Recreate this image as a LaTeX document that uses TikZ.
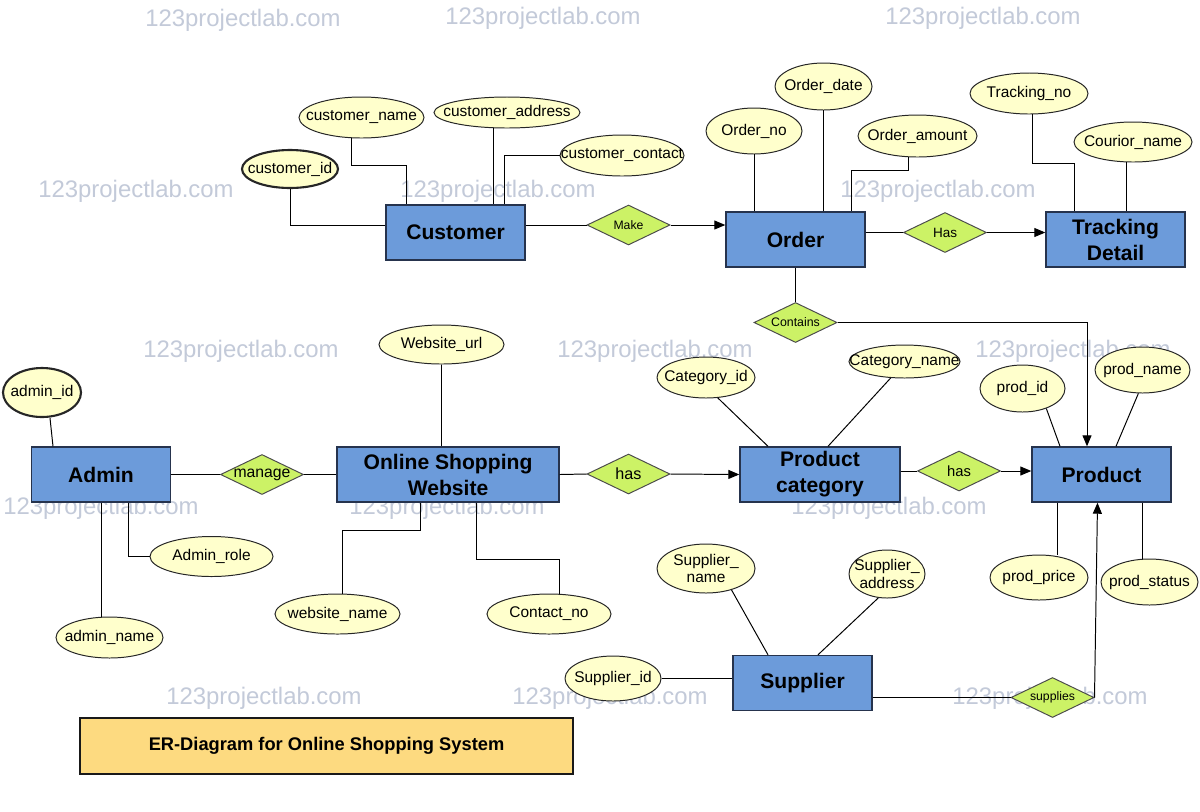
\documentclass[tikz,border=0pt]{standalone}
\usepackage{fontspec}
\setmainfont{Liberation Sans}
\usetikzlibrary{shapes.geometric,arrows.meta}

\newlength{\pxu}
\setlength{\pxu}{0.025cm}

\definecolor{entfill}{HTML}{6C9BDA}
\definecolor{entline}{HTML}{26334D}
\definecolor{attrfill}{HTML}{FFFFCC}
\definecolor{relfill}{HTML}{CCF266}
\definecolor{titlefill}{HTML}{FDDA80}
\definecolor{wmcolor}{HTML}{C3CAD9}

\tikzset{
  entity/.style={draw=entline, fill=entfill, line width=1pt, inner sep=2pt,
    minimum width=139\pxu, minimum height=55\pxu, align=center,
    font=\bfseries\fontsize{15}{18.5}\selectfont},
  attrtxt/.style={inner sep=0pt, align=center, font=\fontsize{11}{12.5}\selectfont},
  attr/.style n args={3}{ellipse, draw=black!85, fill=attrfill, inner sep=0pt,
    minimum width=#1\pxu, minimum height=#2\pxu, label={[attrtxt]center:#3}},
  keyline/.style={line width=1.5pt},
  rel/.style={diamond, aspect=2, draw=black!70, fill=relfill, inner sep=-1.5pt,
    minimum width=83\pxu, minimum height=40\pxu, font=\fontsize{#1}{#1}\selectfont},
  rel/.default=9,
  arr/.style={-{Triangle[length=0.275cm,width=0.225cm]}},
  wmark/.style={text=wmcolor, font=\fontsize{17}{17}\selectfont},
  titlebox/.style={draw=black!90, fill=titlefill, line width=1pt,
    minimum width=493\pxu, minimum height=56\pxu, font=\bfseries\fontsize{13}{15}\selectfont}
}

\begin{document}
\begin{tikzpicture}[x=\pxu, y=-\pxu, line width=0.7pt]
\fill[white] (0,0) rectangle (1200,811);
\useasboundingbox (0,0) rectangle (1200,811);

\foreach \wx/\wy in {243/20, 543/18, 983/18, 136/191, 498/191, 938/191,
  241/351, 655/351, 1073/351, 101/508, 447/508, 889/508,
  264/698, 610/698, 1050/698}
  \node[wmark] (wm\wx) at (\wx,\wy) {123projectlab.com};

\node[entity] (cust) at (455.5,232.5) {Customer};
\node[entity] (order) at (795.5,239.5) {Order};
\node[entity] (track) at (1115.5,239.5) {Tracking\\Detail};
\node[entity] (admin) at (101,474.5) {Admin};
\node[entity, minimum width=222\pxu] (osw) at (448,474.5) {Online Shopping\\Website};
\node[entity, minimum width=160\pxu] (pcat) at (820,474.5) {Product\\category};
\node[entity] (prod) at (1101.5,474.5) {Product};
\node[entity] (sup) at (802.5,683) {Supplier};

\node[rel=8.7] (make) at (628.5,225) {Make};
\node[rel=9.6] (ohas) at (945,232.5) {Has};
\node[rel=8.8] (contains) at (795.5,322.5) {Contains};
\node[rel=11.2] (manage) at (262,474.5) {manage};
\node[rel=11.5] (has1) at (628.5,474) {has};
\node[rel=10.5] (has2) at (959,471) {has};
\node[rel=8.7] (supplies) at (1052.5,697.5) {supplies};

\node[attr={96}{38}{customer\_id}, keyline] (cid) at (290,169) {};
\node[attr={125}{41}{customer\_name}] (cname) at (361.5,117.5) {};
\node[attr={146}{31}{customer\_address}] (caddr) at (507,112.5) {};
\node[attr={124}{41}{customer\_contact}] (ccont) at (622,155.5) {};
\node[attr={96}{46}{Order\_no}] (ono) at (754,131) {};
\node[attr={97}{47}{Order\_date}] (odate) at (823.5,86.5) {};
\node[attr={119}{42}{Order\_amount}] (oamt) at (917.5,136) {};
\node[attr={118}{41}{Tracking\_no}] (tno) at (1029,93.5) {};
\node[attr={118}{40}{Courior\_name}] (cour) at (1133,142) {};
\node[attr={78}{49}{admin\_id}, keyline] (aid) at (42,392.5) {};
\node[attr={123}{40}{Admin\_role}] (arole) at (211.5,556.5) {};
\node[attr={107}{41}{admin\_name}] (aname) at (109.5,637.5) {};
\node[attr={125}{39}{Website\_url}] (wurl) at (441.5,344.5) {};
\node[attr={125}{40}{website\_name}] (wname) at (337.5,614) {};
\node[attr={124}{40}{Contact\_no}] (cno) at (549,614) {};
\node[attr={98}{41}{Category\_id}] (catid) at (706,377.5) {};
\node[attr={111}{33}{Category\_name}] (catname) at (904.5,361.5) {};
\node[attr={85}{47}{prod\_id}] (pid) at (1022.5,388.5) {};
\node[attr={95}{46}{prod\_name}] (pname) at (1142.5,370) {};
\node[attr={98}{45}{prod\_price}] (pprice) at (1039,577.5) {};
\node[attr={97}{46}{prod\_status}] (pstatus) at (1149.5,582) {};
\node[attr={96}{45}{Supplier\_id}] (sid) at (613,678.5) {};
\node[attr={98}{49}{Supplier\_\\name}] (sname) at (706,568.5) {};
\node[attr={76}{48}{Supplier\_\\address}] (saddr) at (887,574) {};

\node[titlebox] (title) at (326.5,746) {ER-Diagram for Online Shopping System};

\draw (cid.south) |- (cust.west |- make);
\draw ([xshift=-10\pxu]cname.south) -- ++(0,27) -| ([xshift=-49.5\pxu]cust.north);
\draw ([xshift=-14\pxu]caddr.south) -- ([xshift=-14\pxu]caddr.south |- cust.north);
\draw (ccont.west) -| ([xshift=48.5\pxu]cust.north);
\draw (cust.east |- make) -- (make.west);
\draw[arr] (make.east) -- (order.west |- make);

\draw (ono.south) -- (ono.south |- order.north);
\draw (odate.south) -- (odate.south |- order.north);
\draw ([xshift=-9.5\pxu]oamt.south) -- ++(0,13) -| ([xshift=55.5\pxu]order.north);
\draw (order.east |- ohas) -- (ohas.west);
\draw[arr] (ohas.east) -- (track.west |- ohas);
\draw ([xshift=3\pxu]tno.south) -- ++(0,49) -| ([xshift=-41.5\pxu]track.north);
\draw ([xshift=-7\pxu]cour.south) -- ([xshift=-7\pxu]cour.south |- track.north);
\draw (order.south) -- (contains.north);
\draw[arr] (contains.east) -| ([xshift=-14.5\pxu]prod.north);

\draw ([xshift=8\pxu]aid.south) -- ([xshift=-48\pxu]admin.north);
\draw ([xshift=27\pxu]admin.south) |- (arole.west);
\draw (admin.south) -- (admin.south |- aname.north);
\draw (admin.east) -- (manage.west);
\draw (manage.east) -- (osw.west);

\draw (wurl.south) -- (wurl.south |- osw.north);
\draw ([xshift=-28\pxu]osw.south) -- ++(0,28) -| ([xshift=4.5\pxu]wname.north);
\draw ([xshift=28\pxu]osw.south) -- ++(0,57) -| ([xshift=10\pxu]cno.north);
\draw (osw.east) -- (has1.west);
\draw[arr] (has1.east) -- (pcat.west);

\draw (catid.300) -- ([xshift=-52\pxu]pcat.north);
\draw (catname.230) -- ([xshift=8\pxu]pcat.north);
\draw (pcat.east |- has2) -- (has2.west);
\draw[arr] (has2.east) -- (prod.west |- has2);

\draw (pid.320) -- ([xshift=-41.5\pxu]prod.north);
\draw (pname.260) -- ([xshift=14.5\pxu]prod.north);
\draw ([xshift=-44.5\pxu]prod.south) -- ([xshift=-44.5\pxu]prod.south |- pprice.north);
\draw ([xshift=40.5\pxu]prod.south) -- ([xshift=40.5\pxu]prod.south |- pstatus.north);

\draw (sid.east) -- (sup.west |- sid.east);
\draw (sname.320) -- ([xshift=-34.5\pxu]sup.north);
\draw (saddr.250) -- ([xshift=15.5\pxu]sup.north);
\draw (sup.east |- supplies) -- (supplies.west);
\draw[arr] (supplies.east) -- ([xshift=-4\pxu]prod.south);
\end{tikzpicture}
\end{document}
